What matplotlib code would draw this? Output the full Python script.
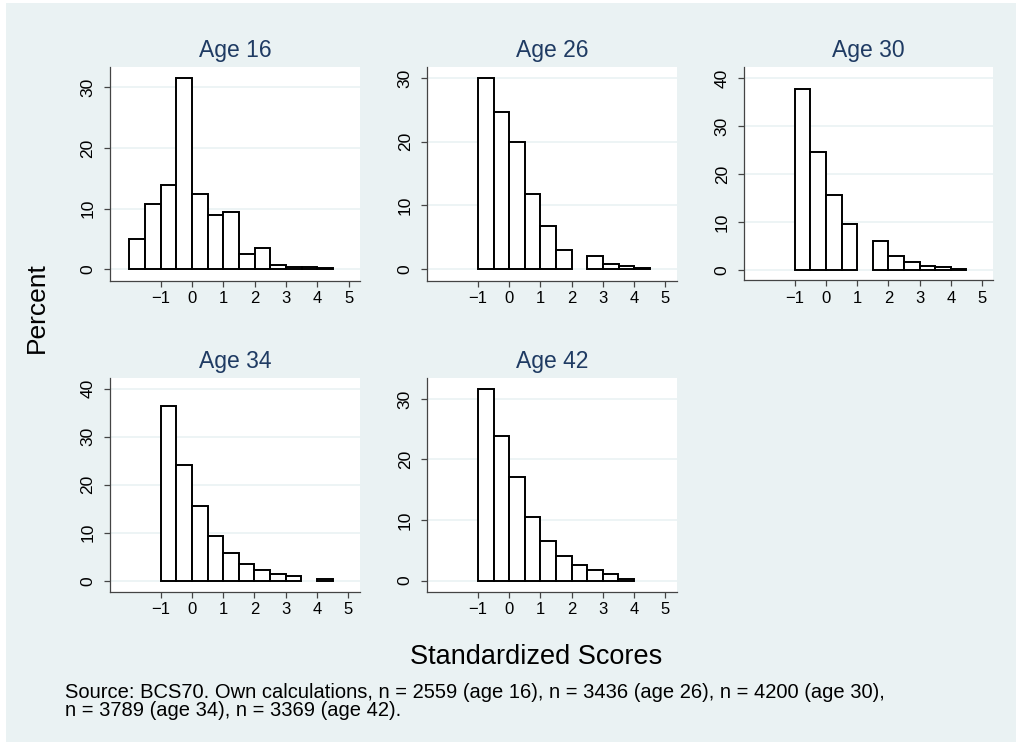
import matplotlib
matplotlib.use("Agg")
import matplotlib.pyplot as plt
from matplotlib.patches import Rectangle

plt.rcParams['font.family'] = ['Liberation Sans', 'DejaVu Sans']

# ---- data (percent per 0.5-wide bin) ----
titles = ["Age 16", "Age 26", "Age 30", "Age 34", "Age 42"]
bin_width = 0.5
start_16 = -2.0
pct_16 = [5.0, 10.8, 13.95, 31.6, 12.4, 8.96, 9.4, 2.6, 3.5, 0.7, 0.45, 0.3, 0.2]
start_26 = -1.0
pct_26 = [29.95, 24.6, 19.97, 11.8, 6.85, 3.03, 0.0, 2.14, 0.84, 0.47, 0.2]
start_30 = -1.0
pct_30 = [37.8, 24.6, 15.7, 9.6, 0.0, 6.0, 2.86, 1.67, 0.77, 0.49, 0.14]
start_34 = -1.0
pct_34 = [36.4, 24.2, 15.55, 9.24, 5.7, 3.54, 2.2, 1.3, 0.9, 0.0, 0.3]
start_42 = -1.0
pct_42 = [31.65, 23.94, 17.17, 10.5, 6.55, 4.0, 2.53, 1.76, 1.05, 0.33]

x_ticks = [-1, 0, 1, 2, 3, 4, 5]
y_ticks_16 = [0, 10, 20, 30]
y_ticks_26 = [0, 10, 20, 30]
y_ticks_30 = [0, 10, 20, 30, 40]
y_ticks_34 = [0, 10, 20, 30, 40]
y_ticks_42 = [0, 10, 20, 30]

x_title = "Standardized Scores"
y_title = "Percent"
note_line1 = "Source: BCS70. Own calculations, n = 2559 (age 16), n = 3436 (age 26), n = 4200 (age 30),"
note_line2 = "n = 3789 (age 34), n = 3369 (age 42)."

# ---- layout ----
W, H = 1016, 742
BG = '#EAF2F3'
TITLE_C = '#1F3B63'
fig = plt.figure(figsize=(W / 100, H / 100), dpi=100)
fig.patch.set_facecolor('white')
fig.patches.append(Rectangle((6 / W, 0), 1 - 6 / W, 1 - 3 / H, transform=fig.transFigure,
                             facecolor=BG, edgecolor='none', zorder=-10))

def px_axes(l, t, r, b):
    return fig.add_axes([l / W, 1 - b / H, (r - l) / W, (b - t) / H])

panels = [
    (titles[0], start_16, pct_16, y_ticks_16, (110, 66.7, 360, 280.7), (-1.88, 33.4)),
    (titles[1], start_26, pct_26, y_ticks_26, (427.3, 66.7, 676.7, 280.7), (-1.79, 31.76)),
    (titles[2], start_30, pct_30, y_ticks_30, (744.3, 66.7, 993.3, 280.5), (-2.24, 42.4)),
    (titles[3], start_34, pct_34, y_ticks_34, (110, 378.3, 359.5, 591.7), (-2.29, 42.2)),
    (titles[4], start_42, pct_42, y_ticks_42, (427.3, 378.3, 676.5, 591.7), (-1.82, 33.4)),
]

for title, start, pct, yt, box, ylim in panels:
    ax = px_axes(*box)
    ax.set_facecolor('white')
    lefts = [start + i * bin_width for i in range(len(pct))]
    xs = [l for l, v in zip(lefts, pct) if v > 0]
    hs = [v for v in pct if v > 0]
    ax.bar(xs, hs, width=bin_width, align='edge', facecolor='white',
           edgecolor='black', linewidth=1.4, zorder=3)
    ax.set_xlim(-2.62, 5.36)
    ax.set_ylim(*ylim)
    ax.set_xticks(x_ticks)
    ax.set_xticklabels(['\u22121' if v == -1 else str(v) for v in x_ticks])
    ax.set_yticks(yt)
    ax.set_yticklabels([str(v) for v in yt], rotation=90, va='center')
    ax.grid(axis='y', color=BG, linewidth=1.2, zorder=0)
    ax.set_axisbelow(True)
    for s in ['top', 'right']:
        ax.spines[s].set_visible(False)
    for s in ['left', 'bottom']:
        ax.spines[s].set_color('#444444')
        ax.spines[s].set_linewidth(0.9)
    ax.tick_params(axis='both', direction='out', length=4.5, width=0.9, color='#444444')
    ax.tick_params(axis='x', labelsize=12, pad=3)
    ax.tick_params(axis='y', labelsize=12.5, pad=6)
    ax.annotate(title, xy=(0.5, 1), xycoords='axes fraction', xytext=(0, 7.3),
                textcoords='offset points', ha='center', va='baseline',
                fontsize=16.5, color=TITLE_C)

fig.text(536 / W, 1 - 657 / H, x_title, ha='center', va='center', fontsize=19.5, color='black')
fig.text(37 / W, 1 - 308 / H, y_title, ha='center', va='center', rotation=90,
         fontsize=19, color='black')
fig.text(65 / W, 1 - 698.3 / H, note_line1, ha='left', va='baseline', fontsize=14.5, color='black')
fig.text(65 / W, 1 - 716.5 / H, note_line2, ha='left', va='baseline', fontsize=14.5, color='black')

fig.savefig('out.png', dpi=100, facecolor=fig.get_facecolor())
